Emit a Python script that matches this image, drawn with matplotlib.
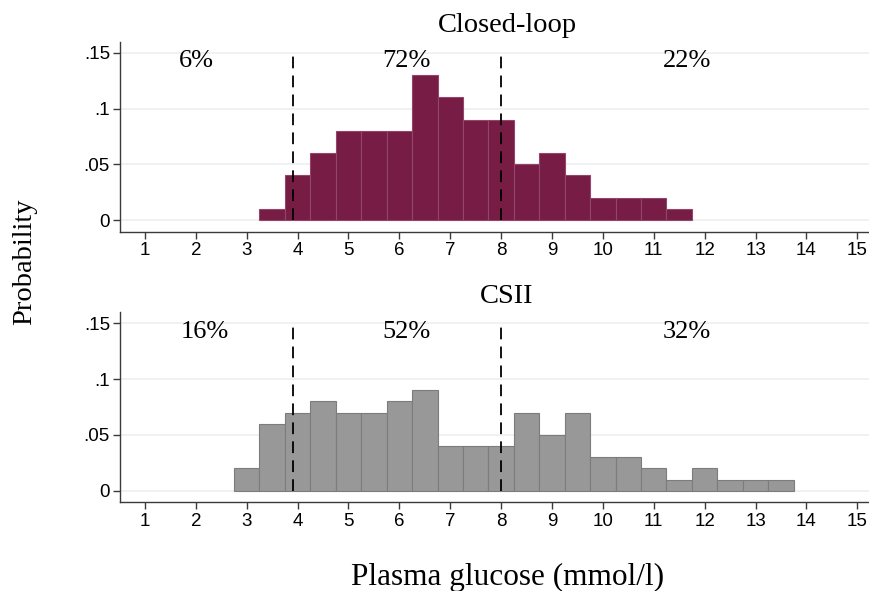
import matplotlib
matplotlib.use("Agg")
import matplotlib.pyplot as plt
import numpy as np

# Histogram data (probability per 0.5 mmol/l bin)
bin_width = 0.5
closed_loop_start = 3.25
closed_loop_probs = [0.01, 0.04, 0.06, 0.08, 0.08, 0.08, 0.13, 0.11, 0.09,
                     0.09, 0.05, 0.06, 0.04, 0.02, 0.02, 0.02, 0.01]
csii_start = 2.75
csii_probs = [0.02, 0.06, 0.07, 0.08, 0.07, 0.07, 0.08, 0.09, 0.04, 0.04,
              0.04, 0.07, 0.05, 0.07, 0.03, 0.03, 0.02, 0.01, 0.02, 0.01,
              0.01, 0.01]

# Glucose thresholds and share of time in each range
thresholds = [3.9, 8.0]
closed_loop_pcts = ["6%", "72%", "22%"]
csii_pcts = ["16%", "52%", "32%"]
pct_x = [[2.02, 6.14, 11.65], [2.17, 6.14, 11.65]]

titles = ["Closed-loop", "CSII"]
x_ticks = list(range(1, 16))
y_ticks = [0, 0.05, 0.1, 0.15]
y_tick_labels = ["0", ".05", ".1", ".15"]

SERIF = "Liberation Serif"
SANS = "Liberation Sans"

W, H = 870, 591
fig = plt.figure(figsize=(W / 100, H / 100), dpi=100)
fig.patch.set_facecolor("white")

panels = [
    dict(probs=closed_loop_probs, start=closed_loop_start, pcts=closed_loop_pcts,
         face="#761c45", edge="#94456a", top=41.7, bottom=231.7, xs=pct_x[0],
         title=titles[0], title_base=32),
    dict(probs=csii_probs, start=csii_start, pcts=csii_pcts,
         face="#989898", edge="#7c7c7c", top=312.3, bottom=502.3, xs=pct_x[1],
         title=titles[1], title_base=302.6),
]

left_px = 120.3
for p in panels:
    ax = fig.add_axes([left_px / W, 1 - p["bottom"] / H, 1 - left_px / W,
                       (p["bottom"] - p["top"]) / H])
    ax.set_xlim(0.515, 15.25)
    ax.set_ylim(-0.0104, 0.1599)

    for y in y_ticks:
        ax.axhline(y, color="#e9eff2", lw=1.1, zorder=0)

    probs = np.asarray(p["probs"])
    edges = p["start"] + bin_width * np.arange(len(probs))
    ax.bar(edges, probs, width=bin_width, align="edge", color=p["face"],
           edgecolor=p["edge"], linewidth=0.8, zorder=2)

    for t in thresholds:
        ax.plot([t, t], [0, 0.15], color="black", lw=1.3,
                dashes=(6.5, 4), zorder=3)

    for x, s in zip(p["xs"], p["pcts"]):
        ax.text(x, 0.1425, s, ha="center", va="center", fontsize=19,
                family=SERIF, color="black", zorder=4)

    for side in ("top", "right"):
        ax.spines[side].set_visible(False)
    for side in ("left", "bottom"):
        ax.spines[side].set_color("#3a3a3a")
        ax.spines[side].set_linewidth(1.0)

    ax.set_xticks(x_ticks)
    ax.set_xticklabels([str(v) for v in x_ticks])
    ax.set_yticks(y_ticks)
    ax.set_yticklabels(y_tick_labels)
    ax.tick_params(direction="out", length=5, width=1.0, color="#3a3a3a",
                   labelsize=13.5, pad=2.5, labelcolor="black")
    for lbl in ax.get_xticklabels() + ax.get_yticklabels():
        lbl.set_family(SANS)

    fig.text(507 / W, 1 - p["title_base"] / H, p["title"], ha="center",
             va="baseline", fontsize=20.5, family=SERIF)

fig.text(508 / W, 1 - 585 / H, "Plasma glucose (mmol/l)", ha="center",
         va="baseline", fontsize=22.5, family=SERIF)
fig.text(25 / W, 1 - 262 / H, "Probability", ha="center", va="center",
         rotation=90, fontsize=20.5, family=SERIF)

fig.savefig("out.png", dpi=100, facecolor="white")
